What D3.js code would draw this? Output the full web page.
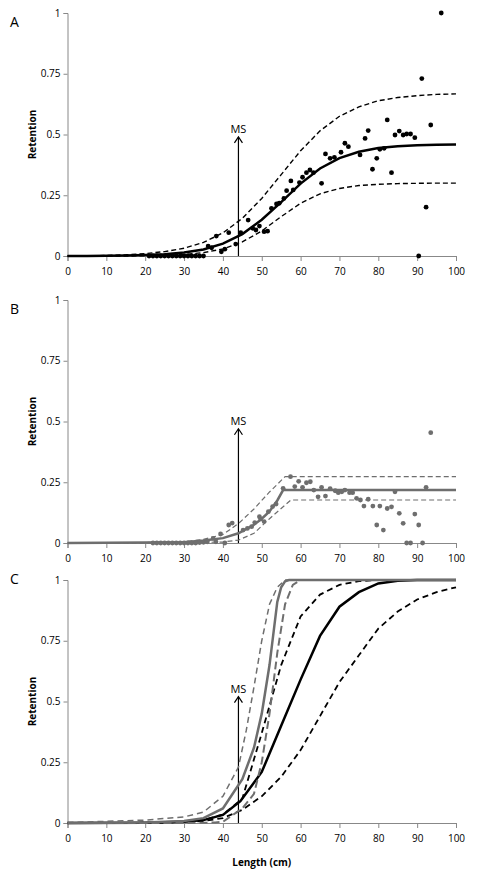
<!DOCTYPE html>
<html><head><meta charset="utf-8">
<script src="https://cdn.jsdelivr.net/npm/d3@7"></script>
<style>body{margin:0;background:#fff}svg{font-family:"Open Sans",sans-serif}</style>
</head><body><svg id="c" width="479" height="882"></svg>
<script>
const xTicks=[0,10,20,30,40,50,60,70,80,90,100];
const yTicks=[0,0.25,0.5,0.75,1];
const panelLabels=["A","B","C"];
const msLength=44;
const msTop=[0.49,0.47,0.52];
// Panel A
const aPtsX=[21,22,23,24,25,26,27,28,29,30,31,32,33,34,35,36.2,37.1,38.3,39.6,40.5,41.5,43.3,44.6,46.5,47.7,48.5,49.4,50.6,51.5,52.5,53.8,54.5,55.7,56.4,57.5,58.1,59.7,60.5,61.5,62.4,63.3,65.4,66.4,67.6,68.7,70.4,71.4,72.3,75.3,76.6,77.4,78.5,79.6,80.4,81.5,82.3,83.4,84.3,85.4,86.4,87.3,88.3,89.4,90.4,91.2,92.3,93.5,96.2];
const aPtsY=[0,0,0,0,0,0,0,0,0,0,0,0,0,0,0,0.041,0.034,0.082,0.017,0.028,0.096,0.049,0.096,0.148,0.114,0.107,0.123,0.100,0.102,0.196,0.214,0.217,0.237,0.269,0.309,0.272,0.302,0.324,0.343,0.354,0.343,0.299,0.420,0.402,0.406,0.427,0.464,0.450,0.416,0.484,0.516,0.357,0.402,0.439,0.443,0.560,0.343,0.498,0.514,0.498,0.502,0.502,0.487,0,0.73,0.201,0.539,1.0];
const curveX=[0,5,10,15,20,25,30,35,40,45,50,55,60,65,70,75,80,85,90,95,100];
const aFit=[0,0,0.001,0.002,0.004,0.007,0.014,0.027,0.051,0.090,0.149,0.222,0.298,0.360,0.403,0.429,0.444,0.452,0.456,0.458,0.459];
const aUpper=[0,0.001,0.002,0.005,0.01,0.018,0.032,0.056,0.095,0.155,0.237,0.335,0.433,0.515,0.575,0.614,0.639,0.652,0.660,0.665,0.667];
const aLower=[0,0,0,0,0.001,0.003,0.006,0.014,0.029,0.058,0.103,0.162,0.217,0.256,0.278,0.290,0.295,0.298,0.299,0.300,0.300];
// Panel B
const bPtsX=[22,23,24,25,26,27,28,29,30,31,32,33,34,35,36,37.5,38.2,39.4,40.5,41.5,42.4,45.2,46.3,47.4,48.2,49.4,49.7,50.6,51.7,52.8,53.7,55.5,57.4,58.5,59.5,60.5,61.5,62.5,63.4,64.5,65.4,66.4,67.6,68.9,69.7,70.6,71.4,72.6,73.4,74.4,75.4,76.3,77.4,78.6,79.6,80.4,81.3,82.3,83.4,84.3,85.4,86.4,87.3,88.3,89.4,90.4,91.4,92.3,93.5];
const bPtsY=[0,0,0,0,0,0,0,0,0,0,0,0,0.002,0.003,0.005,0.019,0.005,0.037,0,0.074,0.082,0.053,0.060,0.067,0.084,0.108,0.099,0.088,0.129,0.150,0.160,0.225,0.273,0.232,0.254,0.229,0.248,0.252,0.218,0.190,0.229,0.193,0.224,0.215,0.207,0.211,0.218,0.207,0.207,0.184,0.177,0.152,0.180,0.152,0.074,0.152,0.053,0.142,0.149,0.211,0.122,0.081,0,0,0.119,0.074,0,0.229,0.454];
const bFitX=[0,10,20,30,35,40,44,48,50,52,54,55.5,100];
const bFitY=[0,0.001,0.002,0.003,0.01,0.02,0.04,0.075,0.10,0.13,0.175,0.218,0.218];
const bUpX=[0,10,20,30,35,40,44,48,52,56,100];
const bUpY=[0,0.001,0.002,0.005,0.015,0.035,0.08,0.14,0.21,0.273,0.273];
const bLoX=[0,20,30,40,44,48,52,57.5,100];
const bLoY=[0,0,0.001,0.004,0.012,0.04,0.10,0.177,0.177];
// Panel C
const cBlackX=[0,20,30,35,40,44.5,50,55,60,65,70,75,80,85,90,100];
const cBlack=[0,0.001,0.005,0.012,0.033,0.09,0.21,0.40,0.59,0.77,0.89,0.95,0.986,0.997,1,1];
const cBlackHiX=[0,20,30,35,40,45,50,55,60,65,70,75,80,85,90,95,100];
const cBlackHi=[0,0.001,0.004,0.008,0.02,0.054,0.11,0.19,0.30,0.44,0.58,0.69,0.80,0.87,0.92,0.95,0.97];
const cBlackLoX=[0,20,30,35,40,45,50,55,60,65,70,75,80,100];
const cBlackLo=[0,0.001,0.005,0.012,0.035,0.10,0.37,0.65,0.85,0.94,0.98,0.995,1,1];
const cGreyX=[0,10,20,30,35,40,45,48,50,52,54,55,56,57,100];
const cGrey=[0,0.001,0.002,0.008,0.02,0.06,0.18,0.31,0.45,0.65,0.91,0.97,0.995,1,1];
const cGreyLoX=[0,10,20,30,35,40,44,46,48,50,52,54,56,100];
const cGreyLo=[0.002,0.007,0.012,0.025,0.045,0.11,0.23,0.38,0.56,0.75,0.90,0.97,1,1];
const cGreyHiX=[0,30,38,40,45,48,50,52,54,56,58,60,100];
const cGreyHi=[0,0,0.002,0.005,0.06,0.12,0.25,0.45,0.70,0.90,0.98,1,1];

const svg=d3.select("#c");
const x=d3.scaleLinear().domain([0,100]).range([67.5,456]);
const panels=[{top:13,bot:256},{top:300,bot:543},{top:580,bot:823}];
const grey="#6e6e6e";
function line(ys,xs,g,color,w,dash){
  const pts=xs.map((v,i)=>[v,ys[i]]);
  g.append("path").attr("d",d3.line().x(d=>x(d[0])).y(d=>g.y(d[1]))(pts))
   .attr("fill","none").attr("stroke",color).attr("stroke-width",w).attr("stroke-dasharray",dash||null);
}
panels.forEach((p,i)=>{
  const y=d3.scaleLinear().domain([0,1]).range([p.bot,p.top]);
  const g=svg.append("g"); g.y=y;
  const ya=g.append("g").attr("transform",`translate(${x(0)},0)`).call(d3.axisLeft(y).tickValues(yTicks).tickSize(4).tickFormat(d=>d===0?"0":d===1?"1":String(d)));
  const xa=g.append("g").attr("transform",`translate(0,${p.bot})`).call(d3.axisBottom(x).tickValues(xTicks).tickSize(5).tickFormat(d3.format("d")));
  [ya,xa].forEach(a=>{a.select(".domain").attr("stroke","#888");a.selectAll("line").attr("stroke","#888");a.selectAll("text").attr("font-size",10).attr("fill","#000").attr("font-family","Open Sans");});
  xa.selectAll("text").attr("dy","1.1em");
  g.append("text").text("Retention").attr("transform",`translate(36,${(p.top+p.bot)/2}) rotate(-90)`).attr("text-anchor","middle").attr("font-size",10).attr("font-weight","bold");
  g.append("text").text(panelLabels[i]).attr("x",10).attr("y",p.top+ (i==2?0:10)+ (i==2?0:0)).attr("font-size",14).attr("dominant-baseline","middle");
  // MS arrow
  const ax=x(msLength), at=y(msTop[i]);
  g.append("line").attr("x1",ax).attr("x2",ax).attr("y1",p.bot).attr("y2",at).attr("stroke","#000").attr("stroke-width",1.2);
  g.append("path").attr("d",`M${ax-4},${at+6}L${ax},${at}L${ax+4},${at+6}`).attr("fill","none").attr("stroke","#000").attr("stroke-width",1.2);
  g.append("text").text("MS").attr("x",ax).attr("y",at-4).attr("text-anchor","middle").attr("font-size",11);
  if(i===0){
    line(aUpper,curveX,g,"#000",1.4,"5,3");
    line(aLower,curveX,g,"#000",1.4,"5,3");
    line(aFit,curveX,g,"#000",2.5);
    g.selectAll(".pt").data(aPtsX).join("circle").attr("cx",d=>x(d)).attr("cy",(d,j)=>y(aPtsY[j])).attr("r",2.4).attr("fill","#000");
  } else if(i===1){
    line(bUpY,bUpX,g,grey,1.2,"5,3");
    line(bLoY,bLoX,g,grey,1.2,"5,3");
    line(bFitY,bFitX,g,grey,2.5);
    g.selectAll(".pt").data(bPtsX).join("circle").attr("cx",d=>x(d)).attr("cy",(d,j)=>y(bPtsY[j])).attr("r",2.4).attr("fill",grey);
  } else {
    line(cBlackHi,cBlackHiX,g,"#000",1.8,"6,4");
    line(cBlackLo,cBlackLoX,g,"#000",1.8,"6,4");
    line(cBlack,cBlackX,g,"#000",2.5);
    line(cGreyLo,cGreyLoX,g,grey,1.5,"6,4");
    line(cGreyHi,cGreyHiX,g,grey,2,"8,4");
    line(cGrey,cGreyX,g,grey,2.5);
  }
});
svg.append("text").text("Length (cm)").attr("x",x(50)).attr("y",866).attr("text-anchor","middle").attr("font-size",10).attr("font-weight","bold");
</script></body></html>
